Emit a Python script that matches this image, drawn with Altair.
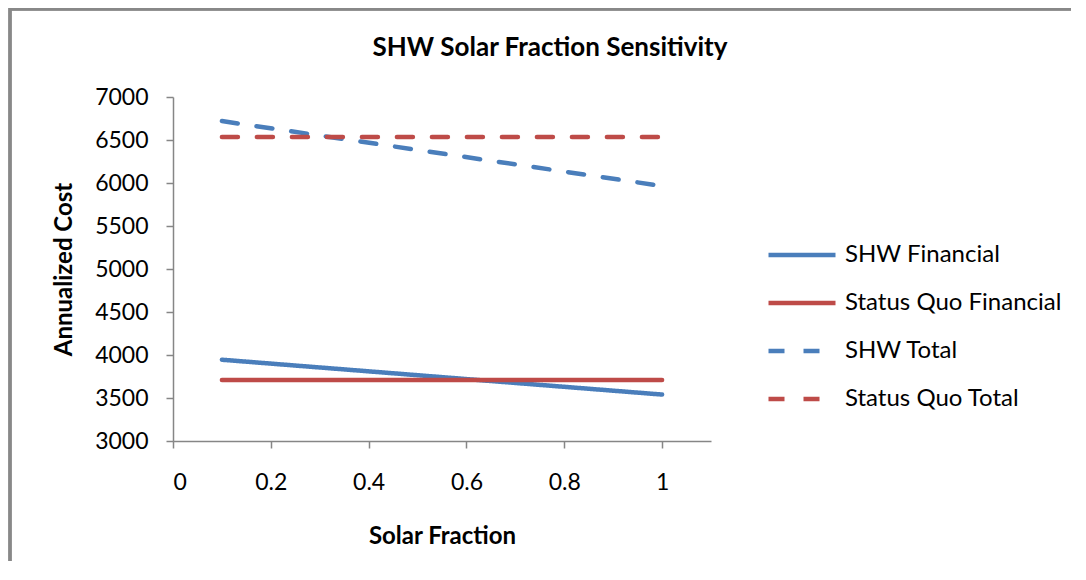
import altair as alt
import pandas as pd

# Data
solar_fraction = [0.1, 1.0]
series_names = ["SHW Financial", "Status Quo Financial", "SHW Total", "Status Quo Total"]
shw_financial = [3945, 3540]
status_quo_financial = [3710, 3710]
shw_total = [6720, 5965]
status_quo_total = [6535, 6535]
x_ticks = [0, 0.2, 0.4, 0.6, 0.8, 1.0]
y_ticks = [3000, 3500, 4000, 4500, 5000, 5500, 6000, 6500, 7000]

rows = []
for name, vals in zip(series_names, [shw_financial, status_quo_financial, shw_total, status_quo_total]):
    for xv, yv in zip(solar_fraction, vals):
        rows.append({"series": name, "x": xv, "y": yv})
df = pd.DataFrame(rows)

FONT = "Lato"
W, H = 538, 344

lines = alt.Chart(df).mark_line(strokeWidth=4.5, strokeCap="round").encode(
    x=alt.X("x:Q", scale=alt.Scale(domain=[0, 1.1], nice=False),
            axis=alt.Axis(values=x_ticks, title="Solar Fraction", grid=False, labelPadding=23,
                          labelExpr="datum.value == 1 ? '1' : datum.value == 0 ? '0' : format(datum.value, '.1f')")),
    y=alt.Y("y:Q", scale=alt.Scale(domain=[3000, 7000], nice=False),
            axis=alt.Axis(values=y_ticks, title="Annualized Cost", grid=False, format="d")),
    color=alt.Color("series:N",
                    scale=alt.Scale(domain=series_names,
                                    range=["#4A7EBB", "#BE4B48", "#4A7EBB", "#BE4B48"]),
                    legend=alt.Legend(title=None, orient="none", legendX=593, legendY=122,
                                      symbolType="stroke", symbolSize=4489, symbolStrokeWidth=4.5,
                                      labelFontSize=24, labelFont=FONT, labelColor="#000000",
                                      labelOffset=7, rowPadding=0, labelLimit=400)),
    strokeDash=alt.StrokeDash("series:N",
                              scale=alt.Scale(domain=series_names,
                                              range=[[1, 0], [1, 0], [16, 19], [16, 19]]),
                              legend=None),
    detail="series:N",
)

frame = alt.Chart(df).mark_rect(fillOpacity=0, stroke="#888888", strokeWidth=2.5).encode(
    x=alt.value(-163), x2=alt.value(W + 500), y=alt.value(-88), y2=alt.value(H + 300)
)

chart = alt.layer(frame, lines).properties(
    width=W, height=H,
    title=alt.TitleParams("SHW Solar Fraction Sensitivity", fontSize=26, font=FONT,
                          fontWeight="bold", color="#000000", dx=108, offset=-53),
    autosize=alt.AutoSizeParams(type="none"),
    padding={"left": 165, "top": 89, "right": 360, "bottom": 120},
).configure_view(stroke=None).configure_axis(
    domainColor="#868686", domainWidth=1.5, tickColor="#868686", tickWidth=1.5, tickSize=7,
    labelFont=FONT, labelFontSize=23, labelColor="#000000", labelPadding=18,
    titleFont=FONT, titleFontSize=24, titleFontWeight="bold", titleColor="#000000",
).configure_axisX(titlePadding=30).configure_axisY(titlePadding=18)

chart.save("out.html", embed_options={"renderer": "svg", "actions": False})
